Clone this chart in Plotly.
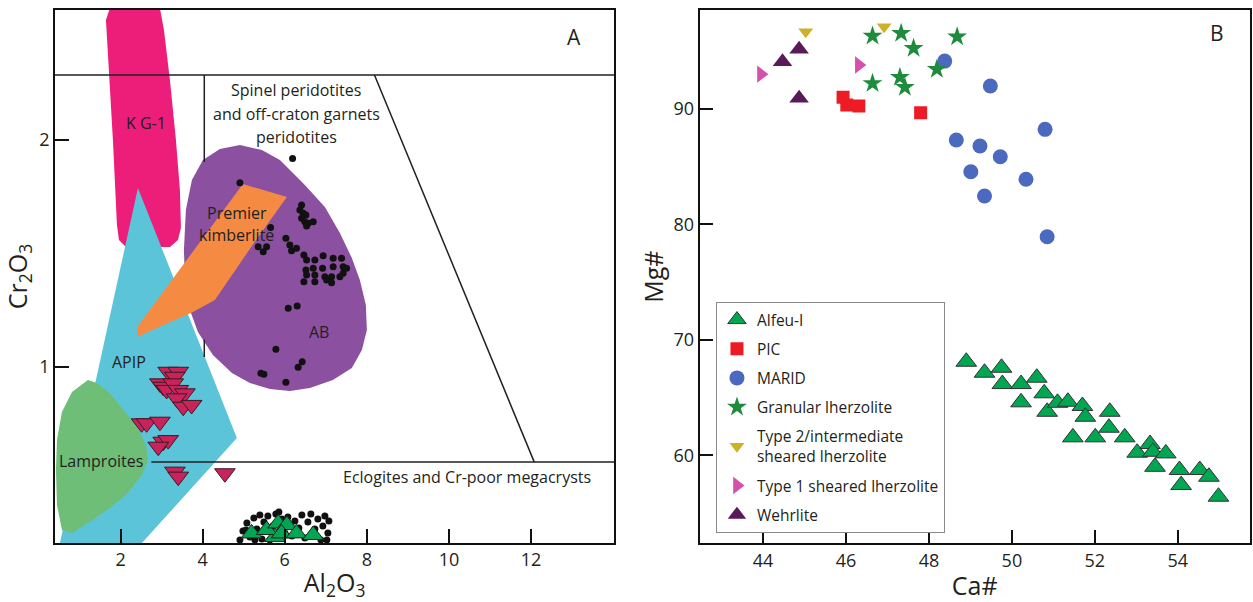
import plotly.graph_objects as go

# ---------------- Panel A data (Al2O3 vs Cr2O3) ----------------
kg1_region_x = [1.741, 2.959, 3.057, 3.203, 3.349, 3.446, 3.471, 3.398, 3.203, 2.131, 1.961, 1.912, 1.814, 1.693, 1.644]
kg1_region_y = [2.581, 2.581, 2.485, 2.264, 2.000, 1.780, 1.612, 1.559, 1.529, 1.529, 1.559, 1.626, 2.000, 2.352, 2.529]

apip_region_x = [2.423, 4.834, 2.146, 0.431, 1.400]
apip_region_y = [1.789, 0.687, 0.150, 0.150, 0.943]

ab_region_x = [4.908, 5.443, 5.882, 6.490, 6.978, 7.343, 7.635, 7.830, 7.976, 8.001, 7.879, 7.635, 7.172, 6.612,
               6.125, 5.638, 5.151, 4.713, 4.250, 3.885, 3.690, 3.568, 3.544, 3.592, 3.738, 4.006, 4.420]
ab_region_y = [1.978, 1.956, 1.912, 1.802, 1.705, 1.590, 1.480, 1.383, 1.273, 1.163, 1.075, 0.996, 0.943, 0.907,
               0.894, 0.903, 0.930, 0.974, 1.053, 1.154, 1.251, 1.383, 1.515, 1.692, 1.824, 1.912, 1.960]

premier_region_x = [2.399, 2.423, 4.981, 6.052, 5.248, 4.298, 3.763]
premier_region_y = [1.132, 1.181, 1.806, 1.749, 1.546, 1.295, 1.242]

lamproite_region_x = [1.206, 1.425, 1.741, 2.107, 2.423, 2.618, 2.667, 2.521, 2.180, 1.741, 1.254, 0.816, 0.572,
                      0.451, 0.426, 0.451, 0.572, 0.816]
lamproite_region_y = [0.943, 0.930, 0.885, 0.802, 0.731, 0.656, 0.590, 0.524, 0.445, 0.379, 0.317, 0.269, 0.282,
                      0.392, 0.546, 0.678, 0.802, 0.890]

# field boundary lines
top_boundary_y = 2.286
divider_x = [4.04, 4.04]
divider_y = [1.903, 2.286]
tickmark_x = [4.04, 4.04]
tickmark_y = [1.044, 1.120]
diagonal_x = [8.186, 12.08]
diagonal_y = [2.286, 0.581]
eclogite_line_x = [2.75, 14.03]
eclogite_line_y = [0.581, 0.581]

# black dots (garnets)
dots_al = [6.191, 4.908, 6.410, 6.369, 6.449, 6.515, 6.410, 6.490, 6.571, 6.693, 6.532, 5.655, 6.028, 6.125, 6.167,
           6.288, 5.353, 5.475, 5.558, 6.466, 6.532, 6.734, 6.936, 7.180, 7.384, 6.515, 6.693, 6.922, 7.180, 7.423,
           7.506, 6.532, 6.734, 6.978, 7.141, 7.343, 7.423, 6.466, 6.734, 7.019, 7.141, 6.084, 6.303, 5.784, 6.425,
           6.327, 5.419, 5.492, 6.028,
           4.908, 4.981, 5.078, 5.151, 5.248, 5.321, 5.394, 5.443, 5.492, 5.589, 5.638, 5.711, 5.784, 5.930, 6.003,
           6.076, 6.174, 6.247, 6.344, 6.417, 6.490, 6.564, 6.636, 6.734, 6.807, 6.880, 6.929, 6.978, 7.051, 7.075,
           7.026, 5.857, 5.054, 5.273]
dots_cr = [1.919, 1.812, 1.714, 1.692, 1.677, 1.670, 1.655, 1.640, 1.633, 1.640, 1.621, 1.615, 1.567, 1.537, 1.512,
           1.523, 1.530, 1.508, 1.530, 1.493, 1.471, 1.471, 1.490, 1.479, 1.479, 1.427, 1.435, 1.435, 1.442, 1.442,
           1.435, 1.405, 1.405, 1.398, 1.398, 1.398, 1.413, 1.376, 1.376, 1.383, 1.371, 1.259, 1.269, 1.078, 1.023,
           0.999, 0.972, 0.968, 0.933,
           0.238, 0.278, 0.313, 0.251, 0.335, 0.286, 0.348, 0.242, 0.317, 0.344, 0.238, 0.300, 0.352, 0.330, 0.269,
           0.339, 0.256, 0.322, 0.291, 0.348, 0.247, 0.317, 0.352, 0.286, 0.330, 0.238, 0.300, 0.344, 0.269, 0.322,
           0.238, 0.361, 0.282, 0.238]

# crimson inverted triangles
apip_al = [3.161, 3.405, 3.324, 2.959, 3.039, 3.122, 3.283, 3.405, 3.568, 3.366, 3.527, 3.731, 2.513, 2.635,
           2.959, 3.039, 3.161, 2.918, 3.324, 3.405, 4.542]
apip_cr = [0.979, 0.979, 0.957, 0.928, 0.913, 0.899, 0.928, 0.899, 0.884, 0.862, 0.825, 0.833, 0.752, 0.752,
           0.759, 0.671, 0.678, 0.649, 0.539, 0.517, 0.532]

# Alfeu-I garnets in panel A
alfeu_al = [5.192, 5.760, 5.558, 5.840, 6.052, 5.923, 6.288, 6.693]
alfeu_cr = [0.267, 0.251, 0.282, 0.311, 0.304, 0.267, 0.267, 0.260]

# ---------------- Panel B data (Ca# vs Mg#) ----------------
alfeu_ca = [48.90, 49.34, 49.75, 49.77, 50.22, 50.22, 50.60, 50.78, 50.85, 51.10, 51.35, 51.70, 51.77, 51.47,
            52.01, 52.36, 52.34, 52.72, 53.02, 53.33, 53.40, 53.45, 53.71, 54.04, 54.08, 54.53, 54.75, 54.98]
alfeu_mg = [68.11, 67.16, 67.59, 66.18, 66.18, 64.60, 66.73, 65.38, 63.78, 64.56, 64.65, 64.28, 63.35, 61.57,
            61.57, 63.78, 62.40, 61.57, 60.24, 60.99, 60.32, 59.02, 60.18, 58.74, 57.44, 58.74, 58.16, 56.43]

pic_ca = [45.93, 46.02, 46.31, 47.80]
pic_mg = [90.99, 90.33, 90.24, 89.66]

marid_ca = [48.38, 49.48, 50.80, 48.66, 49.23, 49.72, 49.01, 50.34, 49.34, 50.85]
marid_mg = [94.13, 91.97, 88.22, 87.30, 86.78, 85.85, 84.55, 83.90, 82.45, 78.93]

granular_ca = [46.64, 47.33, 47.63, 48.68, 48.19, 46.64, 47.30, 47.42]
granular_mg = [96.30, 96.53, 95.23, 96.24, 93.42, 92.20, 92.72, 91.86]

type2_ca = [45.03, 46.92]
type2_mg = [96.67, 97.10]

type1_ca = [43.95, 46.31]
type1_mg = [93.00, 93.79]

wehrlite_ca = [44.47, 44.87, 44.87]
wehrlite_mg = [94.07, 95.15, 90.91]

# ---------------- styling ----------------
FONT = "Open Sans"
TXT = "#231f20"
PINK = "rgb(236,30,121)"
CYAN = "rgb(92,196,217)"
ORANGE = "rgb(245,139,67)"
PURPLE = "rgb(139,80,160)"
LGREEN = "rgb(110,190,120)"

fig = go.Figure()


def region(x, y, color):
    fig.add_trace(go.Scatter(x=x, y=y, mode="lines", fill="toself", fillcolor=color,
                             line=dict(width=0, color=color), hoverinfo="skip",
                             showlegend=False, xaxis="x", yaxis="y"))


region(kg1_region_x, kg1_region_y, PINK)
region(apip_region_x, apip_region_y, CYAN)
region(ab_region_x, ab_region_y, PURPLE)
region(premier_region_x, premier_region_y, ORANGE)
region(lamproite_region_x, lamproite_region_y, LGREEN)

for lx, ly in [(divider_x, divider_y), (tickmark_x, tickmark_y), (diagonal_x, diagonal_y),
               (eclogite_line_x, eclogite_line_y)]:
    fig.add_trace(go.Scatter(x=lx, y=ly, mode="lines", line=dict(color="#231f20", width=1.5),
                             showlegend=False, hoverinfo="skip", xaxis="x", yaxis="y"))

fig.add_trace(go.Scatter(x=dots_al, y=dots_cr, mode="markers",
                         marker=dict(symbol="circle", size=7, color="#111111"),
                         showlegend=False, xaxis="x", yaxis="y"))
fig.add_trace(go.Scatter(x=apip_al, y=apip_cr, mode="markers",
                         marker=dict(symbol="triangle-down", size=18, color="rgb(200,35,90)",
                                     line=dict(color="#3a1a22", width=1)),
                         showlegend=False, xaxis="x", yaxis="y"))
fig.add_trace(go.Scatter(x=alfeu_al, y=alfeu_cr, mode="markers",
                         marker=dict(symbol="triangle-up", size=18, color="rgb(0,166,81)",
                                     line=dict(color="#222222", width=1)),
                         showlegend=False, xaxis="x", yaxis="y"))

# Panel B
series_b = [
    ("Alfeu-I", alfeu_ca, alfeu_mg, "triangle-up", 18, "rgb(0,166,81)", dict(color="#333333", width=1)),
    ("PIC", pic_ca, pic_mg, "square", 13, "rgb(237,28,36)", dict(width=0)),
    ("MARID", marid_ca, marid_mg, "circle", 15, "rgb(75,105,190)", dict(width=0)),
    ("Granular lherzolite", granular_ca, granular_mg, "star", 15, "rgb(30,140,60)", dict(width=0)),
    ("Type 2/intermediate<br>sheared lherzolite", type2_ca, type2_mg, "triangle-down", 13, "rgb(205,178,40)", dict(width=0)),
    ("Type 1 sheared lherzolite", type1_ca, type1_mg, "triangle-right", 15, "rgb(213,80,170)", dict(width=0)),
    ("Wehrlite", wehrlite_ca, wehrlite_mg, "triangle-up", 17, "rgb(90,25,88)", dict(width=0)),
]
for i, (name, xs, ys, sym, sz, col, ln) in enumerate(series_b):
    fig.add_trace(go.Scatter(x=xs, y=ys, mode="markers", name=name, legendgroup=f"g{i}",
                             marker=dict(symbol=sym, size=sz, color=col, line=ln),
                             xaxis="x2", yaxis="y2"))

# top boundary of panel A fields
fig.add_shape(type="line", xref="x domain", yref="y", x0=0, x1=1, y0=top_boundary_y, y1=top_boundary_y,
              line=dict(color="#231f20", width=1.5))

ann = [
    ("K G-1", 2.618, 2.076, 16),
    ("Premier", 4.834, 1.678, 16),
    ("kimberlite", 4.834, 1.581, 16),
    ("AB", 6.829, 1.156, 16),
    ("APIP", 2.209, 1.023, 16),
    ("Lamproites", 1.529, 0.587, 16),
    ("Eclogites and Cr-poor megacrysts", 10.45, 0.517, 16),
    ("Spinel peridotites", 6.284, 2.220, 16),
    ("and off-craton garnets", 6.284, 2.115, 16),
    ("peridotites", 6.284, 2.013, 16),
]
for t, x, y, s in ann:
    fig.add_annotation(text=t, x=x, y=y, xref="x", yref="y", showarrow=False,
                       font=dict(family=FONT, size=s, color=TXT))

fig.add_annotation(text="A", x=0.927, y=0.950, xref="x domain", yref="y domain", showarrow=False,
                   xanchor="center", yanchor="middle", font=dict(family=FONT, size=21, color=TXT))
fig.add_annotation(text="B", x=0.940, y=0.957, xref="x2 domain", yref="y2 domain", showarrow=False,
                   xanchor="center", yanchor="middle", font=dict(family=FONT, size=21, color=TXT))

axis_common = dict(showline=True, linecolor="#111111", linewidth=1.6, mirror=True, ticks="inside",
                   ticklen=14, tickwidth=1.5, tickcolor="#111111", showgrid=False, zeroline=False,
                   tickfont=dict(family=FONT, size=18, color=TXT))

fig.update_layout(
    width=1253, height=602,
    margin=dict(l=0, r=0, t=0, b=0),
    paper_bgcolor="white", plot_bgcolor="white",
    font=dict(family=FONT, color=TXT),
    xaxis=dict(domain=[0.0438, 0.4903], range=[0.40, 14.03], tickvals=[2, 4, 6, 8, 10, 12],
               title=dict(text="Al<sub>2</sub>O<sub>3</sub>", font=dict(family=FONT, size=25, color=TXT), standoff=8),
               anchor="y", **axis_common),
    yaxis=dict(domain=[0.098, 0.9834], range=[0.2247, 2.5727], tickvals=[1, 2],
               title=dict(text="Cr<sub>2</sub>O<sub>3</sub>", font=dict(family=FONT, size=25, color=TXT), standoff=6),
               anchor="x", **axis_common),
    xaxis2=dict(domain=[0.5583, 0.9976], range=[42.47, 55.74], tickvals=[44, 46, 48, 50, 52, 54],
                title=dict(text="Ca#", font=dict(family=FONT, size=25, color=TXT), standoff=10),
                anchor="y2", **axis_common),
    yaxis2=dict(domain=[0.0975, 0.9834], range=[52.4, 98.55], tickvals=[60, 70, 80, 90],
                title=dict(text="Mg#", font=dict(family=FONT, size=25, color=TXT), standoff=3),
                anchor="x2", **axis_common),
    legend=dict(x=0.5714, y=0.4983, xanchor="left", yanchor="top", xref="paper", yref="paper",
                bgcolor="white", bordercolor="#8a8a8a", borderwidth=1,
                font=dict(family=FONT, size=15.5, color=TXT), traceorder="grouped", tracegroupgap=6,
                itemwidth=30),
)

fig.write_html("out.html", post_script="document.body.style.margin='0px';",
               config={"displayModeBar": False})
